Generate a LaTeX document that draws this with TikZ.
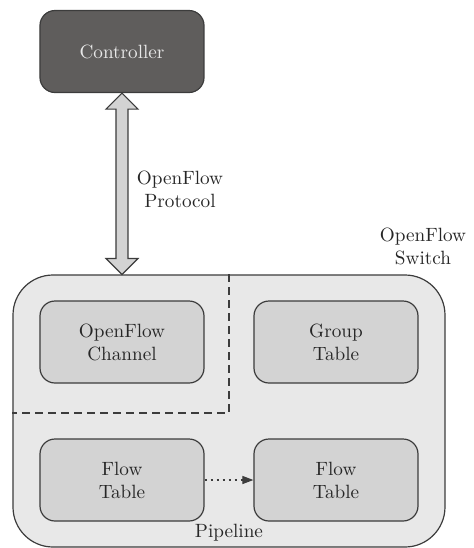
\documentclass[tikz,border=0pt]{standalone}
\usepackage{tikz}
\usetikzlibrary{arrows.meta,calc}
\definecolor{ctrlgray}{HTML}{5F5D5C}
\definecolor{boxgray}{HTML}{D3D3D3}
\definecolor{swgray}{HTML}{E8E8E8}
\definecolor{edgegray}{HTML}{3C3C3C}

\begin{document}
\begin{tikzpicture}[x=0.5pt,y=-0.5pt,
    every node/.style={font=\fontsize{9.6}{11.5}\selectfont,align=center,text=black!85},
    tblbox/.style={draw=edgegray,line width=0.6pt,fill=boxgray,rounded corners=7.5pt,
        minimum width=82pt,minimum height=41pt,inner sep=0pt}]
                \useasboundingbox (0,0) rectangle (474,548);
                \node[draw=edgegray,line width=0.6pt,fill=swgray,rounded corners=20pt,
                    minimum width=216pt,minimum height=136pt] (sw) at (229,411) {};
                \node[tblbox,fill=ctrlgray,text=swgray] (ctrl) at (122,51.5) {Controller};
                \node[tblbox] (chan) at (122,342) {OpenFlow\\Channel};
                \node[tblbox] (grp) at (336,342) {Group\\Table};
                \foreach \x/\name in {122/ftA,336/ftB}
                    \node[tblbox] (\name) at (\x,480) {Flow\\Table};
                % hollow double arrow, controller <-> switch
                \coordinate (pa) at (ctrl.south);
                \coordinate (pb) at (ctrl.south |- sw.north);
                \draw[edgegray,line width=0.6pt,fill=boxgray,line join=miter]
                    (pa) -- ++(16,16) -- ++(-10,0) -- ($(pb)+(6,-16)$) -- ++(10,0) -- (pb)
                    -- ++(-16,-16) -- ++(10,0) -- ($(pa)+(-6,16)$) -- ++(-10,0) -- cycle;
                \draw[dashed,edgegray,line width=0.6pt,dash pattern=on 4pt off 2.5pt]
                    (sw.north) |- (sw.west |- 0,413);
                \draw[edgegray,line width=0.6pt,dash pattern=on 1pt off 2pt,
                    -{Triangle[length=5.5pt,width=4pt]}] (ftA.east) -- (ftB.west);
                \node (protolbl) at (180,189) {OpenFlow\\Protocol};
                \node (swlbl) at (423,246) {OpenFlow\\Switch};
                \node (pipe) at (229,533) {Pipeline};
            \end{tikzpicture}
\end{document}
